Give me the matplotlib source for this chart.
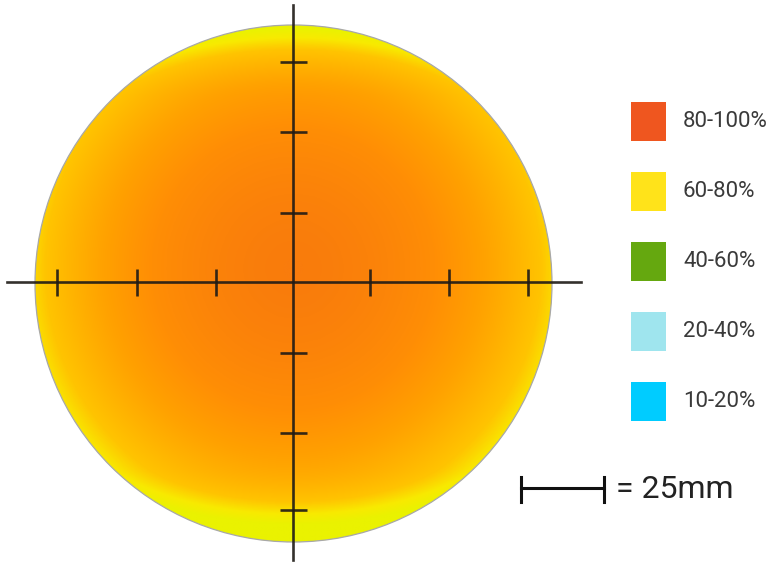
import numpy as np
import matplotlib
matplotlib.use("Agg")
import matplotlib.pyplot as plt
from matplotlib.colors import LinearSegmentedColormap
from matplotlib.patches import Circle, Rectangle

# wafer geometry (pixel units of the original drawing)
wafer_center = (293.5, 283.5)
wafer_radius = 258.5
cross_center = (293, 282)

# crosshair tick positions
x_ticks = [57, 137, 216, 370, 449, 528]
y_ticks = [62, 132, 213, 353, 433, 510]

# legend
legend_labels = ["80-100%", "60-80%", "40-60%", "20-40%", "10-20%"]
legend_colors = ["#EF561F", "#FFE31A", "#65A80F", "#9FE5EE", "#00CCFF"]

# colour stops of the uniformity map, centre -> edge
map_stops = [0.0, 0.3, 0.5, 0.65, 0.78, 0.9, 1.0]
map_colors = ["#F97C0C", "#FF8E05", "#FFA200", "#FFB400", "#FFC400", "#F8EA00", "#EAF200"]

fig = plt.figure(figsize=(7.73, 5.62), dpi=100)
ax = fig.add_axes([0, 0, 1, 1])
ax.set_xlim(0, 773)
ax.set_ylim(562, 0)
ax.axis("off")

cmap = LinearSegmentedColormap.from_list("wafer", list(zip(map_stops, map_colors)))

cx, cy = wafer_center
R = wafer_radius
xs = np.linspace(cx - R, cx + R, 600)
ys = np.linspace(cy - R, cy + R, 600)
X, Y = np.meshgrid(xs, ys)
r = np.hypot(X - cx, Y - (cy - 15)) / R
edge = np.clip((np.abs(Y - cy) / R - 0.72) / 0.26, 0, 1)
v = (r ** 1.7 + 0.3 * edge ** 1.6) / 1.2

img = ax.imshow(v, cmap=cmap, vmin=0, vmax=1, extent=(cx - R, cx + R, cy + R, cy - R),
                interpolation="bilinear", zorder=1)
clip = Circle(wafer_center, R, transform=ax.transData)
img.set_clip_path(clip)
ax.add_patch(Circle(wafer_center, R, fill=False, ec="#A8A8A8", lw=0.9, zorder=2))

# crosshair
line_kw = dict(color="#1E1A16", lw=1.9, alpha=0.9, zorder=3)
ax.plot([7, 581], [cross_center[1]] * 2, **line_kw)
ax.plot([cross_center[0]] * 2, [5, 560], **line_kw)
ax.vlines(x_ticks, cross_center[1] - 13.5, cross_center[1] + 13.5, **line_kw)
ax.hlines(y_ticks, cross_center[0] - 13.5, cross_center[0] + 13.5, **line_kw)

# legend
for i, (lab, col) in enumerate(zip(legend_labels, legend_colors)):
    yc = 121.5 + i * 70
    ax.add_patch(Rectangle((631, yc - 19.5), 35, 39, color=col, lw=0, zorder=3))
    ax.text(683, yc, lab, fontsize=16, family="Roboto",
            color="#3A3A3A", va="center", ha="left")

# scale bar
bar_kw = dict(color="#111111", lw=2.2)
ax.plot([521, 604], [488, 488], **bar_kw)
ax.plot([521, 521], [477, 502], **bar_kw)
ax.plot([604, 604], [477, 502], **bar_kw)
ax.text(616, 489, "= 25mm", fontsize=23, family="Roboto",
        color="#222222", va="center", ha="left")

fig.savefig("out.png", dpi=100)
